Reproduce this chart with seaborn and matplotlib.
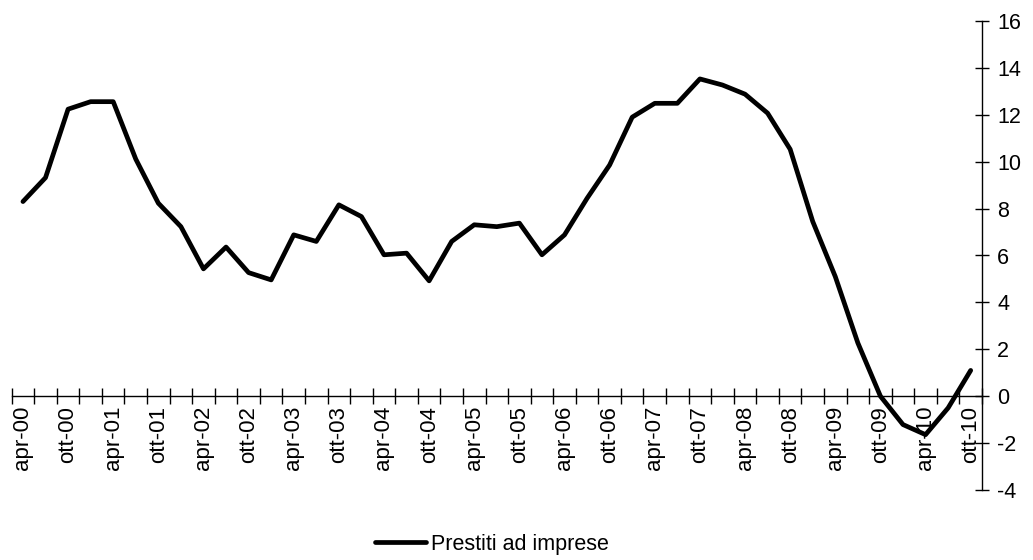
import numpy as np
import pandas as pd
import matplotlib
matplotlib.use("Agg")
import matplotlib.pyplot as plt
from matplotlib.ticker import FixedLocator
import seaborn as sns

# Quarterly growth of loans to firms, apr-00 .. ott-10 (one value per quarter)
periods = [
    "apr-00", "lug-00", "ott-00", "gen-01", "apr-01", "lug-01", "ott-01", "gen-02",
    "apr-02", "lug-02", "ott-02", "gen-03", "apr-03", "lug-03", "ott-03", "gen-04",
    "apr-04", "lug-04", "ott-04", "gen-05", "apr-05", "lug-05", "ott-05", "gen-06",
    "apr-06", "lug-06", "ott-06", "gen-07", "apr-07", "lug-07", "ott-07", "gen-08",
    "apr-08", "lug-08", "ott-08", "gen-09", "apr-09", "lug-09", "ott-09", "gen-10",
    "apr-10", "lug-10", "ott-10",
]
prestiti = [
    8.30, 9.32, 12.24, 12.56, 12.56, 10.11, 8.23, 7.23,
    5.43, 6.36, 5.27, 4.96, 6.88, 6.60, 8.16, 7.66,
    6.03, 6.10, 4.92, 6.60, 7.31, 7.23, 7.38, 6.03,
    6.88, 8.44, 9.86, 11.90, 12.49, 12.49, 13.53, 13.27,
    12.88, 12.07, 10.53, 7.45, 5.10, 2.27, 0.00, -1.21,
    -1.64, -0.50, 1.10,
]
series_name = "Prestiti ad imprese"
y_ticks = [-4, -2, 0, 2, 4, 6, 8, 10, 12, 14, 16]

sns.set_style("white")
plt.rcParams["font.family"] = ["Liberation Sans", "DejaVu Sans"]
plt.rcParams["text.color"] = "black"

df = pd.DataFrame({"pos": np.arange(len(periods)), "val": prestiti, "serie": series_name})

fig = plt.figure(figsize=(10.33, 5.60), dpi=100)
ax = fig.add_axes([0.0113, 0.125, 0.9393, 0.8375])

sns.lineplot(data=df, x="pos", y="val", hue="serie", palette=["black"],
             linewidth=3.4, ax=ax, legend=False)

ax.set_xlim(-0.5, len(periods) - 0.5)
ax.set_ylim(-4, 16)

# spines: x axis crossing at zero, value axis on the right
ax.spines["top"].set_visible(False)
ax.spines["left"].set_visible(False)
ax.spines["bottom"].set_position(("data", 0))
for s in ("bottom", "right"):
    ax.spines[s].set_color("black")
    ax.spines[s].set_linewidth(1.0)
ax.set_axisbelow(True)

# category ticks between quarters, labels every semester
ax.xaxis.set_minor_locator(FixedLocator(np.arange(len(periods) + 1) - 0.5))
ax.xaxis.set_major_locator(FixedLocator(np.arange(0, len(periods), 2)))
ax.set_xticklabels(periods[::2], rotation=90, fontsize=16)
ax.tick_params(axis="x", which="both", bottom=True, top=False)
ax.tick_params(axis="x", which="major", length=0, pad=7, colors="black")
ax.tick_params(axis="x", which="minor", direction="inout", length=12, width=1.0, color="black")

ax.yaxis.tick_right()
ax.set_yticks(y_ticks)
ax.set_yticklabels([str(v) for v in y_ticks], fontsize=15.5)
ax.tick_params(axis="y", which="major", right=True, left=False, direction="inout",
               length=10, width=1.0, pad=6, colors="black")

ax.set_xlabel("")
ax.set_ylabel("")
ax.grid(False)

handle = plt.Line2D([], [], color="black", linewidth=3.4)
fig.legend([handle], [series_name], loc="center", bbox_to_anchor=(0.476, 0.028),
           frameon=False, fontsize=15.5, handlelength=2.4, handletextpad=0.2,
           labelcolor="black")

fig.savefig("out.png", dpi=100, facecolor="white")
